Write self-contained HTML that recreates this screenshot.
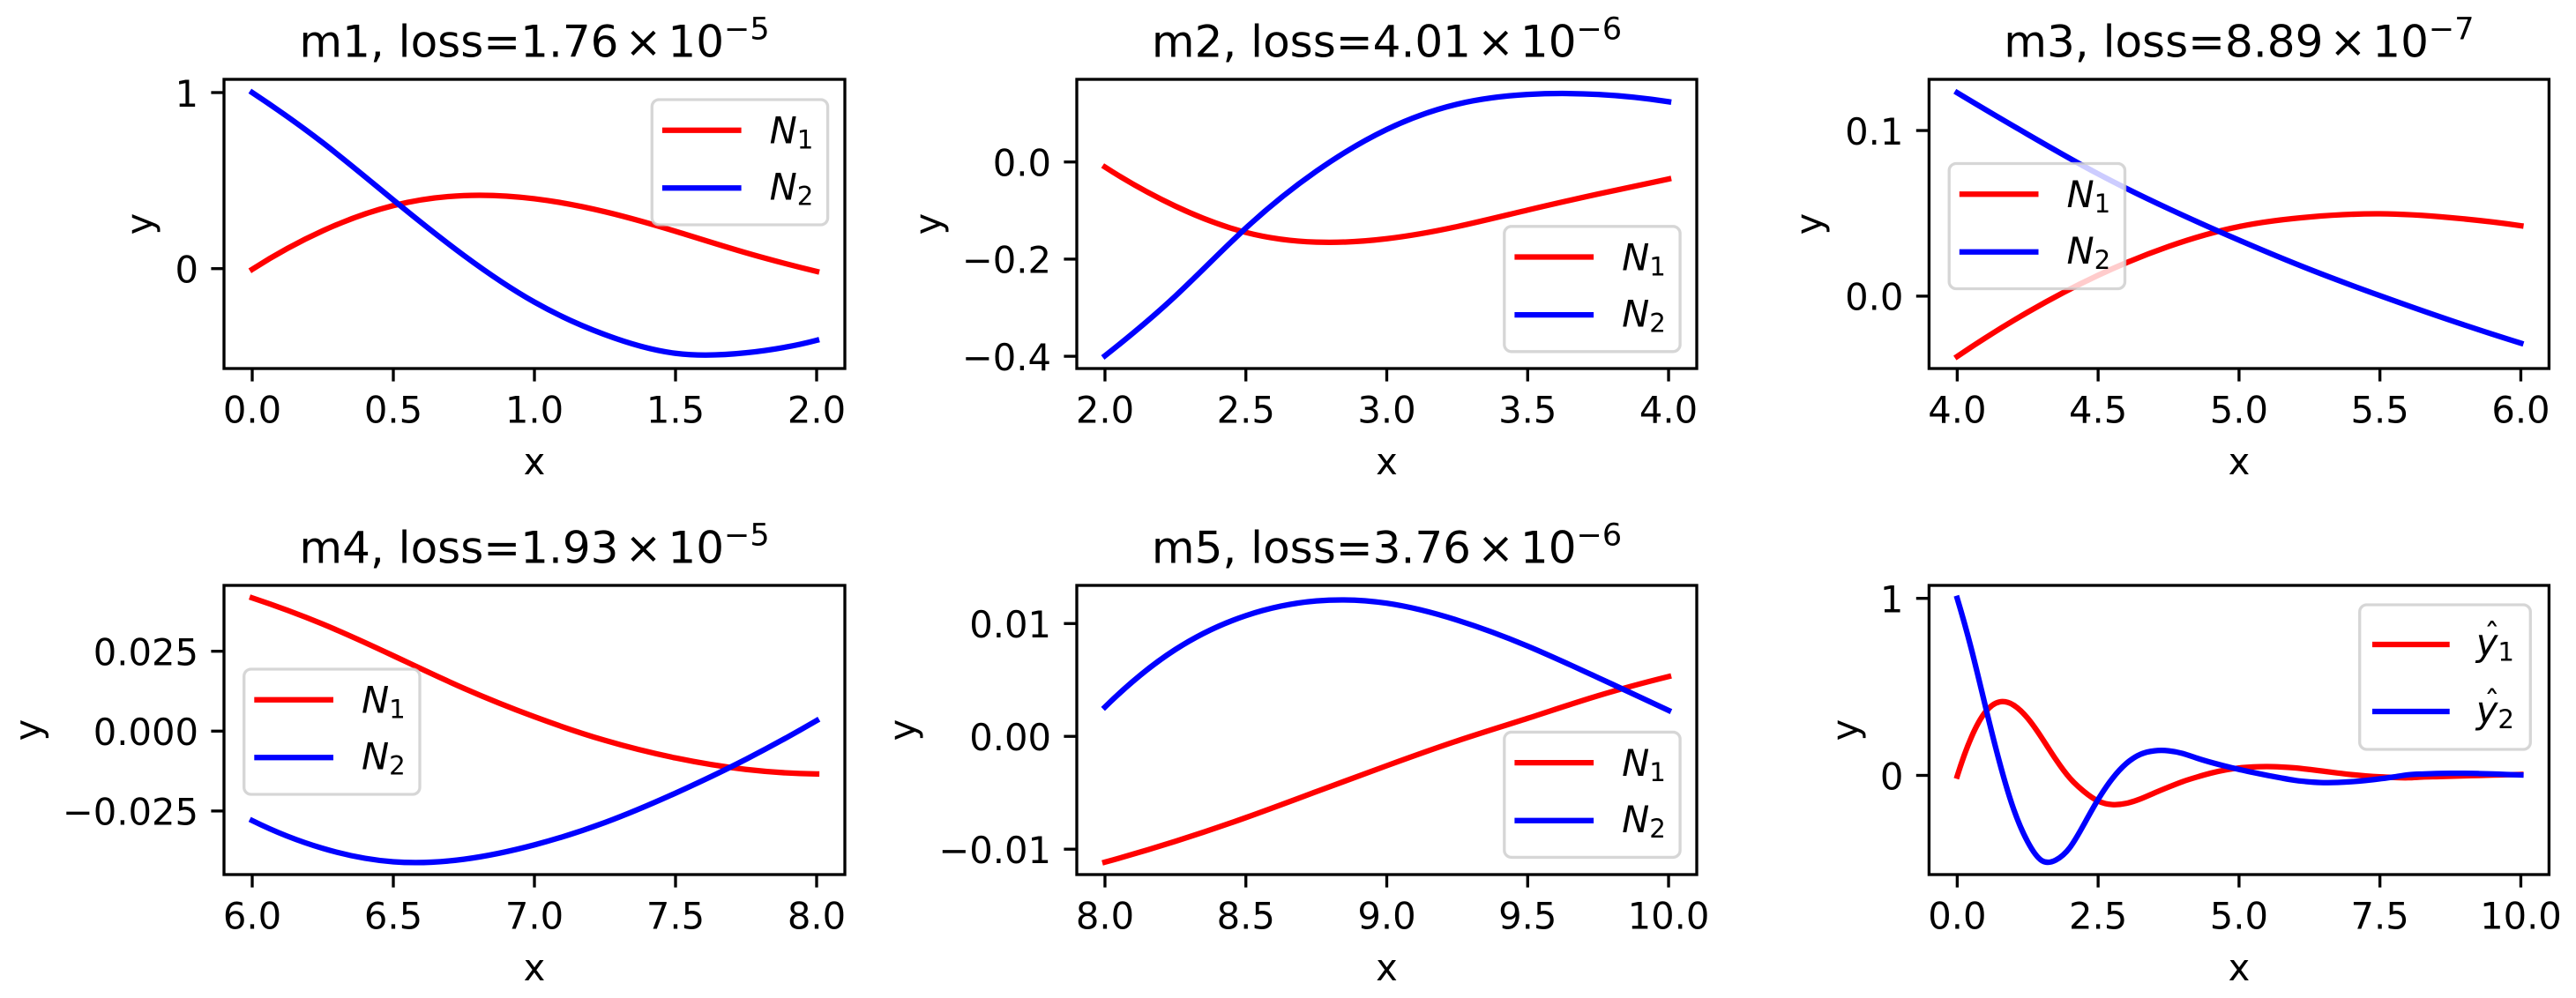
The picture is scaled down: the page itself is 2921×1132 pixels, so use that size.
<!DOCTYPE html>
<html lang="en">
<head>
<meta charset="utf-8">
<title>Neural network segments chart</title>
<style>
html,body{margin:0;padding:0;background:#fff;}
svg{display:block;}
text{font-family:"DejaVu Sans","Liberation Sans",sans-serif;fill:#000;}
</style>
</head>
<body>
<svg id="fig" xmlns="http://www.w3.org/2000/svg" width="2921" height="1132" viewBox="0 0 2921 1132"></svg>
<script>
// ---- Data ----
const m1X = [0, 0.25, 0.5, 0.75, 1, 1.25, 1.5, 1.75, 2];
const m1N1 = [-0.004, 0.215, 0.358, 0.415, 0.397, 0.323, 0.212, 0.09, -0.016];
const m1N2 = [1, 0.715, 0.39, 0.075, -0.19, -0.375, -0.481, -0.478, -0.407];

const m2X = [2, 2.25, 2.5, 2.75, 3, 3.25, 3.5, 3.75, 4];
const m2N1 = [-0.0105, -0.091, -0.145, -0.165, -0.158, -0.133, -0.099, -0.066, -0.035];
const m2N2 = [-0.399, -0.276, -0.136, -0.019, 0.067, 0.119, 0.139, 0.139, 0.124];

const m3X = [4, 4.25, 4.5, 4.75, 5, 5.25, 5.5, 5.75, 6];
const m3N1 = [-0.0364, -0.0097, 0.0126, 0.03, 0.042, 0.0478, 0.0497, 0.0474, 0.0425];
const m3N2 = [0.1228, 0.0977, 0.0738, 0.0528, 0.0338, 0.0162, 0.0003, -0.0146, -0.0284];

const m4X = [6, 6.25, 6.5, 6.75, 7, 7.25, 7.5, 7.75, 8];
const m4N1 = [0.0417, 0.0335, 0.0236, 0.0134, 0.0045, -0.0029, -0.0084, -0.012, -0.0134];
const m4N2 = [-0.028, -0.0367, -0.0409, -0.0401, -0.0356, -0.0286, -0.0194, -0.0088, 0.0033];

const m5X = [8, 8.25, 8.5, 8.75, 9, 9.25, 9.5, 9.75, 10];
const m5N1 = [-0.01115, -0.0093, -0.0072, -0.0049, -0.0026, -0.0004, 0.0016, 0.0036, 0.0053];
const m5N2 = [0.0026, 0.0077, 0.0107, 0.012, 0.0118, 0.0103, 0.008, 0.0052, 0.0023];

// Overview panel: the five segments joined end to end
const allX = m1X.concat(m2X.slice(1), m3X.slice(1), m4X.slice(1), m5X.slice(1));
const allY1 = m1N1.concat(m2N1.slice(1), m3N1.slice(1), m4N1.slice(1), m5N1.slice(1));
const allY2 = m1N2.concat(m2N2.slice(1), m3N2.slice(1), m4N2.slice(1), m5N2.slice(1));

// Axis limits
const m1XLim = [-0.1, 2.1];
const m1YLim = [-0.5673, 1.0751];
const m2XLim = [1.9, 4.1];
const m2YLim = [-0.4252, 0.1701];
const m3XLim = [3.9, 6.1];
const m3YLim = [-0.0437, 0.1309];
const m4XLim = [5.9, 8.1];
const m4YLim = [-0.0449, 0.04561];
const m5XLim = [7.9, 10.1];
const m5YLim = [-0.01225, 0.01338];
const allXLim = [-0.5, 10.5];
const allYLim = [-0.5603, 1.0732];

// Tick values and labels
const m1XTicks = [0, 0.5, 1, 1.5, 2];
const m1XLabels = ['0.0', '0.5', '1.0', '1.5', '2.0'];
const m1YTicks = [0, 1];
const m1YLabels = ['0', '1'];
const m2XTicks = [2, 2.5, 3, 3.5, 4];
const m2XLabels = ['2.0', '2.5', '3.0', '3.5', '4.0'];
const m2YTicks = [-0.4, -0.2, 0];
const m2YLabels = ['\u22120.4', '\u22120.2', '0.0'];
const m3XTicks = [4, 4.5, 5, 5.5, 6];
const m3XLabels = ['4.0', '4.5', '5.0', '5.5', '6.0'];
const m3YTicks = [0, 0.1];
const m3YLabels = ['0.0', '0.1'];
const m4XTicks = [6, 6.5, 7, 7.5, 8];
const m4XLabels = ['6.0', '6.5', '7.0', '7.5', '8.0'];
const m4YTicks = [-0.025, 0, 0.025];
const m4YLabels = ['\u22120.025', '0.000', '0.025'];
const m5XTicks = [8, 8.5, 9, 9.5, 10];
const m5XLabels = ['8.0', '8.5', '9.0', '9.5', '10.0'];
const m5YTicks = [-0.01, 0, 0.01];
const m5YLabels = ['\u22120.01', '0.00', '0.01'];
const allXTicks = [0, 2.5, 5, 7.5, 10];
const allXLabels = ['0.0', '2.5', '5.0', '7.5', '10.0'];
const allYTicks = [0, 1];
const allYLabels = ['0', '1'];

// Titles
const lossValues = ['1.76', '4.01', '8.89', '1.93', '3.76'];
const lossExponents = ['\u22125', '\u22126', '\u22127', '\u22125', '\u22126'];

// ---- Layout of each panel ----
const panels = [
  {id:'m1', box:[254,90,704,328], xs:m1X, a:m1N1, b:m1N2, xl:m1XLim, yl:m1YLim, xt:m1XTicks, xn:m1XLabels, yt:m1YTicks, yn:m1YLabels, ylab:173, leg:[739.3,113], title:0},
  {id:'m2', box:[1221,90,703,328], xs:m2X, a:m2N1, b:m2N2, xl:m2XLim, yl:m2YLim, xt:m2XTicks, xn:m2XLabels, yt:m2YTicks, yn:m2YLabels, ylab:1067, leg:[1705.8,256.8], title:1},
  {id:'m3', box:[2187.4,90,703,328], xs:m3X, a:m3N1, b:m3N2, xl:m3XLim, yl:m3YLim, xt:m3XTicks, xn:m3XLabels, yt:m3YTicks, yn:m3YLabels, ylab:2066, leg:[2210.2,185.5], title:2},
  {id:'m4', box:[254,664,704,328], xs:m4X, a:m4N1, b:m4N2, xl:m4XLim, yl:m4YLim, xt:m4XTicks, xn:m4XLabels, yt:m4YTicks, yn:m4YLabels, ylab:46.5, leg:[276.7,759], title:3},
  {id:'m5', box:[1221,664,703,328], xs:m5X, a:m5N1, b:m5N2, xl:m5XLim, yl:m5YLim, xt:m5XTicks, xn:m5XLabels, yt:m5YTicks, yn:m5YLabels, ylab:1038, leg:[1705.8,830.4], title:4},
  {id:'overview', box:[2187.4,664,703,328], xs:allX, a:allY1, b:allY2, xl:allXLim, yl:allYLim, xt:allXTicks, xn:allXLabels, yt:allYTicks, yn:allYLabels, ylab:2107, leg:[2675.7,686], title:-1}
];

const NS = 'http://www.w3.org/2000/svg';
const svg = document.getElementById('fig');

function mk(tag, attrs, parent, txt) {
  const e = document.createElementNS(NS, tag);
  for (const k in attrs) e.setAttribute(k, attrs[k]);
  if (txt !== undefined) e.textContent = txt;
  parent.appendChild(e);
  return e;
}

function linearScale(domain, r0, r1) {
  return function (v) { return r0 + (v - domain[0]) / (domain[1] - domain[0]) * (r1 - r0); };
}

// C2 cubic spline through the data points, emitted as Bezier segments
function smoothPath(xs, ys, sx, sy) {
  const X = xs.map(sx), Y = ys.map(sy), n = X.length;
  const h = [], s = [];
  for (let i = 0; i < n - 1; i++) {
    h.push(X[i + 1] - X[i]);
    s.push((Y[i + 1] - Y[i]) / h[i]);
  }
  const a = new Array(n).fill(0), b = new Array(n).fill(1), c = new Array(n).fill(0), r = new Array(n).fill(0);
  r[0] = ((2 * h[0] + h[1]) * s[0] - h[0] * s[1]) / (h[0] + h[1]);
  r[n - 1] = ((2 * h[n - 2] + h[n - 3]) * s[n - 2] - h[n - 2] * s[n - 3]) / (h[n - 2] + h[n - 3]);
  for (let i = 1; i < n - 1; i++) {
    a[i] = h[i];
    b[i] = 2 * (h[i - 1] + h[i]);
    c[i] = h[i - 1];
    r[i] = 3 * (h[i] * s[i - 1] + h[i - 1] * s[i]);
  }
  for (let i = 1; i < n; i++) {
    const w = a[i] / b[i - 1];
    b[i] -= w * c[i - 1];
    r[i] -= w * r[i - 1];
  }
  const m = new Array(n);
  m[n - 1] = r[n - 1] / b[n - 1];
  for (let i = n - 2; i >= 0; i--) m[i] = (r[i] - c[i] * m[i + 1]) / b[i];

  let d = 'M' + X[0].toFixed(2) + ' ' + Y[0].toFixed(2);
  for (let i = 0; i < n - 1; i++) {
    const t = h[i] / 3;
    d += 'C' + (X[i] + t).toFixed(2) + ' ' + (Y[i] + t * m[i]).toFixed(2) + ' ' +
         (X[i + 1] - t).toFixed(2) + ' ' + (Y[i + 1] - t * m[i + 1]).toFixed(2) + ' ' +
         X[i + 1].toFixed(2) + ' ' + Y[i + 1].toFixed(2);
  }
  return d;
}

const FS = 41.67, TICK = 14.6, SW = 3.33, LW = 6.25;

panels.forEach(function (p) {
  const L = p.box[0], T = p.box[1], W = p.box[2], H = p.box[3];
  const R = L + W, B = T + H;
  const sx = linearScale(p.xl, L, R);
  const sy = linearScale(p.yl, B, T);

  const g = mk('g', {}, svg);
  
  

  const bg = mk('rect', {x:L, y:T, width:W, height:H, fill:'#fff'}, g);
  
  

  // x ticks
  p.xt.forEach(function (v, i) {
    const tick = mk('line', {x1:sx(v), x2:sx(v), y1:B, y2:B + TICK, stroke:'#000', 'stroke-width':SW}, g);
    
    
    const lab = mk('text', {x:sx(v), y:B + 61.3, 'font-size':FS, 'text-anchor':'middle'}, g, p.xn[i]);
    
    
  });

  // y ticks
  p.yt.forEach(function (v, i) {
    const tick = mk('line', {x1:L - TICK, x2:L, y1:sy(v), y2:sy(v), stroke:'#000', 'stroke-width':SW}, g);
    
    
    const lab = mk('text', {x:L - 29, y:sy(v) + 15.8, 'font-size':FS, 'text-anchor':'end'}, g, p.yn[i]);
    
    
  });

  // axis titles
  const xt = mk('text', {x:L + W / 2, y:B + 119.8, 'font-size':FS, 'text-anchor':'middle'}, g, 'x');
  
  
  const yy = T + H / 2;
  const yt = mk('text', {x:p.ylab, y:yy, 'font-size':FS, 'text-anchor':'middle', transform:'rotate(-90 ' + p.ylab + ' ' + yy + ')'}, g, 'y');
  
  

  // curves
  const c1 = mk('path', {d:smoothPath(p.xs, p.a, sx, sy), fill:'none', stroke:'#ff0000', 'stroke-width':LW, 'stroke-linecap':'square', 'stroke-linejoin':'round'}, g);
  
  
  const c2 = mk('path', {d:smoothPath(p.xs, p.b, sx, sy), fill:'none', stroke:'#0000ff', 'stroke-width':LW, 'stroke-linecap':'square', 'stroke-linejoin':'round'}, g);
  
  

  // frame
  const frame = mk('rect', {x:L, y:T, width:W, height:H, fill:'none', stroke:'#000', 'stroke-width':SW}, g);
  
  

  // title
  if (p.title >= 0) {
    const t = mk('text', {x:L + W / 2, y:T - 25.4, 'font-size':50, 'text-anchor':'middle'}, g);
    
    
    mk('tspan', {}, t, p.id + ', loss=' + lossValues[p.title]);
    mk('tspan', {dx:7}, t, '\u00d7');
    mk('tspan', {dx:7}, t, '10');
    mk('tspan', {dy:-20, 'font-size':35}, t, lossExponents[p.title]);
  }

  // legend
  const hat = p.title < 0;
  const lx = p.leg[0], ly = p.leg[1];
  const lg = mk('g', {}, g);
  
  
  const box = mk('rect', {x:lx, y:ly, width:hat ? 193.6 : 199.3, height:hat ? 164 : 142, rx:8, ry:8, fill:'#fff', 'fill-opacity':0.8, stroke:'#cccccc', 'stroke-opacity':0.8, 'stroke-width':SW}, lg);
  
  

  const x0 = lx + (hat ? 14.3 : 11.6), x1 = lx + (hat ? 102 : 101.3), tx = lx + (hat ? 132 : 133.3);
  const rows = hat ? [[45, 57.5], [121, 134]] : [[34.7, 49.5], [100.3, 113.7]];
  const colors = ['#ff0000', '#0000ff'];
  const subs = ['1', '2'];
  rows.forEach(function (r, i) {
    const h = mk('line', {x1:x0, x2:x1, y1:ly + r[0], y2:ly + r[0], stroke:colors[i], 'stroke-width':LW}, lg);
    
    
    const lt = mk('text', {x:tx, y:ly + r[1], 'font-size':FS}, lg);
    
    
    mk('tspan', {'font-style':'italic'}, lt, hat ? 'y' : 'N');
    mk('tspan', {dy:6, 'font-size':29.2}, lt, subs[i]);
    if (hat) {
      const cap = mk('text', {x:tx + 18, y:ly + r[1] - 11, 'font-size':36, 'text-anchor':'middle'}, lg, '\u02c6');
      
      
    }
  });
});
</script>
</body>
</html>
